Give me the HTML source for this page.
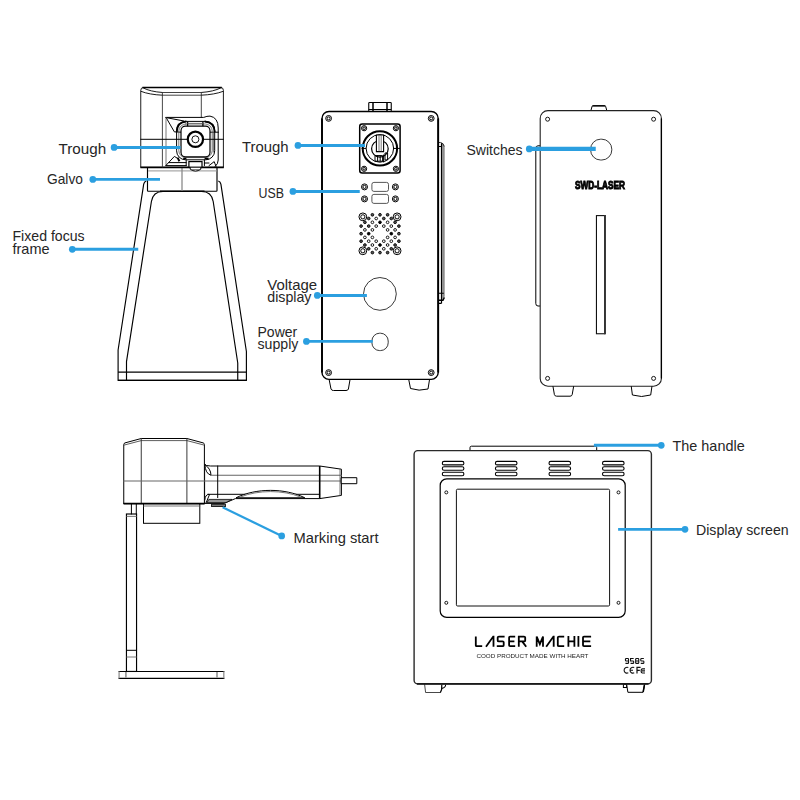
<!DOCTYPE html>
<html>
<head>
<meta charset="utf-8">
<title>Laser machine parts diagram</title>
<style>
html,body{margin:0;padding:0;background:#fff;}
body{width:800px;height:800px;overflow:hidden;font-family:"Liberation Sans",sans-serif;}
svg{display:block;}
.k{fill:none;stroke:#000;stroke-width:1;stroke-linejoin:round;stroke-linecap:round;}
.kb{fill:none;stroke:#000;stroke-width:1.6;stroke-linejoin:round;stroke-linecap:round;}
.g{fill:none;stroke:#555;stroke-width:0.8;stroke-linejoin:round;stroke-linecap:round;}
.w{fill:#fff;}
.bl{stroke:#2b9fe0;stroke-width:2.9;fill:none;}
.bd{fill:#2b9fe0;stroke:none;}
.t{font-family:"Liberation Sans",sans-serif;font-size:14.5px;fill:#262626;}
</style>
</head>
<body>
<svg width="800" height="800" viewBox="0 0 800 800">
<defs><filter id="gray" x="-5%" y="-20%" width="110%" height="140%" color-interpolation-filters="sRGB"><feColorMatrix type="saturate" values="0"/></filter></defs>
<rect width="800" height="800" fill="#fff"/>

<!-- ============ VIEW 1 : galvo head on fixed focus frame ============ -->
<g id="v1">
  <!-- frame -->
  <path d="M146.3 181 Q144.2 181.6 143.7 184.2 L118.1 350 L118.1 380.4 L246.4 380.4 L246.4 351.5 L220.9 184.2 Q220.4 181.6 218.3 181" fill="none" stroke="#000" stroke-width="1.15" stroke-linejoin="round"/>
  <path d="M126.5 380.4 L126.5 361.6 L151.4 201.5 Q153 191.5 163 191.5 L201.6 191.5 Q211.6 191.5 213.2 201.5 L237.75 363 L237.75 380.4" fill="none" stroke="#000" stroke-width="1.15" stroke-linejoin="round"/>
  <path d="M118.1 372.1 L246.4 372.1" fill="none" stroke="#000" stroke-width="1.2"/>
  <path d="M118.1 380.4 L246.4 380.4" fill="none" stroke="#000" stroke-width="1.2"/>
  <!-- galvo block -->
  <path d="M147.5 167.4 L147.5 190.6 Q147.5 191.2 148.2 191.2 L216.3 191.2 Q217 191.2 217 190.6 L217 167.4" fill="#fff" stroke="#000" stroke-width="1.15"/>
  <path d="M160 191.3 L204.5 191.3" fill="none" stroke="#000" stroke-width="1.5"/>
  <path d="M148 170.9 L216.5 170.9" fill="none" stroke="#aaa" stroke-width="1.2"/>
  <path d="M182 168 L182 190.8" fill="none" stroke="#8a8a8a" stroke-width="1.3"/>
  <!-- head box -->
  <path d="M140.75 167.4 L140.75 90.4 Q140.75 87.5 143.6 87.5 L220.6 87.5 Q223.4 87.5 223.4 90.4 L223.4 167.4 Z" fill="#fff" stroke="#111" stroke-width="0.95"/>
  <path d="M142.4 87.5 L221.8 87.5" fill="none" stroke="#000" stroke-width="1.5"/>
  <path d="M140.4 167.4 L223.8 167.4" fill="none" stroke="#000" stroke-width="1.8"/>
  <path class="k" d="M143.4 88 Q150 91.6 162.4 92.5 M201.3 92.5 Q213.8 91.6 220.6 88" style="stroke-width:0.9"/>
  <path class="k" d="M141.2 91.4 Q149 94.6 162.4 95.2 M201.3 95.2 Q214.8 94.6 223 91.4" style="stroke-width:0.9"/>
  <path class="g" d="M162.4 92.5 L201.3 92.5 M162.4 95.2 L201.3 95.2" style="stroke:#444;stroke-width:1"/>
  <path class="g" d="M162.4 92.5 L162.4 167 M201.3 92.5 L201.3 117.4" style="stroke:#333;stroke-width:0.9"/>
  <!-- lens housing -->
  <path class="k" d="M166 117.4 L203.7 117.4 Q207 116 210 116.1 Q218.2 117.5 218.2 128 L218.2 160 Q218.2 164 215.2 166.4"/>
  <path class="k" d="M166 117.4 L174.4 131.9 L181.4 132.2 M166 117.6 L184 121"/>
  <path class="g" d="M166 117.4 L166 165.4"/>
  <path class="k" d="M209.4 132.2 L218.4 132.2"/>
  <!-- concentric rounded frames -->
  <path d="M176.7 132 Q176.9 122 186.4 121.5 M204.6 121.5 Q214.4 122 214.7 132" fill="none" stroke="#000" stroke-width="1.9" stroke-linecap="butt"/>
  <rect class="k" x="176.6" y="121.4" width="38.1" height="38.4" rx="9"/>
  <rect class="g" x="178.8" y="124" width="33.4" height="33.6" rx="7"/>
  <rect x="181" y="126.2" width="29" height="30.6" rx="4.5" fill="#fff" stroke="#000" stroke-width="1.2"/>
  <path class="g" d="M213.4 133 L213.4 152"/>
  <path d="M187.6 121.4 L187.6 126.2 M202.9 121.4 L202.9 126.2" fill="none" stroke="#000" stroke-width="1.3"/>
  <path class="g" d="M187.6 123.4 L202.9 123.4"/>
  <path class="k" d="M140.75 139.3 L187.6 139.3 M203 139.3 L223.4 139.3"/>
  <circle cx="195.4" cy="139.3" r="7.65" fill="#fff" stroke="#000" stroke-width="2.2"/>
  <circle cx="195.4" cy="139.3" r="3.5" fill="#fff" stroke="#000" stroke-width="0.9"/>
  <!-- bottom details -->
  <path d="M183.2 158.6 L186.4 158.6 M204.6 158.6 L208.6 158.6" fill="none" stroke="#000" stroke-width="1.6"/>
  <path class="k" d="M166 165.4 L174.4 156.4 L177.6 158.4 M168.8 162.6 L186.2 162.6 M166 165.6 L186.2 165.6"/>
  <path d="M177.6 157.6 L179.4 161.2" fill="none" stroke="#000" stroke-width="2"/>
  <rect x="188.9" y="161.6" width="13.1" height="5.6" fill="#fff" stroke="#000" stroke-width="1.2"/>
  <path class="k" d="M186.2 160 L186.2 165.6 M204.4 160 L204.4 165.6"/>
  <path class="k w" d="M190.2 167.7 L190.2 169.2 Q195.5 173 200.8 169.2 L200.8 167.7"/>
  <path class="g" d="M191 169.6 L200 169.6"/>
  <path class="k" d="M204.4 163 L209 163 M209 165.6 L214.2 161.6 L216 166.4"/>
</g>

<!-- ============ VIEW 2 : back panel ============ -->
<g id="v2">
  <!-- right side handle -->
  <path d="M442.2 297 L442.2 146 Q442.4 143.6 441 142.6 Q444.7 143.4 444.7 148 L444.7 296 Q444.7 299 442.2 301 Z" fill="#8c8c8c" stroke="none"/>
  <path d="M438.2 142.5 L440.6 142.5 Q443.6 143 444.2 146.5" fill="none" stroke="#333" stroke-width="1"/>
  <path d="M441.5 143.2 L441.5 303.4" fill="none" stroke="#000" stroke-width="1.2"/>
  <path d="M438.2 146.5 L441.5 146.5 M438.2 293.3 L443.8 293.3 M438.2 303.4 L441.5 303.4" fill="none" stroke="#000" stroke-width="1.1"/>
  <path d="M438.2 300.2 L443 300.2 L444.4 297.5" fill="none" stroke="#000" stroke-width="1.4"/>
  <!-- top knob -->
  <rect x="368.75" y="102.5" width="22.5" height="9" rx="0.8" fill="#fff" stroke="#000" stroke-width="1.1"/>
  <path d="M373 102.5 L373 111 M387 102.5 L387 111" fill="none" stroke="#000" stroke-width="1.5"/>
  <path d="M368.75 109.5 L391.25 109.5" fill="none" stroke="#000" stroke-width="1"/>
  <!-- body -->
  <rect x="322" y="111.5" width="116.2" height="267.9" rx="7" fill="#fff" stroke="#000" stroke-width="1.4"/>
  <path d="M322 118.5 L322 372.4 M438.2 118.5 L438.2 372.4" fill="none" stroke="#000" stroke-width="1.85"/>
  <!-- feet -->
  <path class="k" d="M329.3 380.4 L331 389 Q331.5 390.5 333.5 390.5 L346 390.5 Q348 390.5 348.4 389 L349.9 380.4"/>
  <path class="k" d="M408.9 380.4 L410.5 388.5 Q419 391.5 428 389 L429.4 380.4"/>
  <!-- corner screws -->
  <circle cx="328.6" cy="118.4" r="2.9" fill="#fff" stroke="#000" stroke-width="1"/><circle cx="328.6" cy="118.4" r="1.50" fill="#fff" stroke="#000" stroke-width="1"/>
  <circle cx="431.2" cy="118.4" r="2.9" fill="#fff" stroke="#000" stroke-width="1"/><circle cx="431.2" cy="118.4" r="1.50" fill="#fff" stroke="#000" stroke-width="1"/>
  <circle cx="328.6" cy="372.6" r="2.9" fill="#fff" stroke="#000" stroke-width="1"/><circle cx="328.6" cy="372.6" r="1.50" fill="#fff" stroke="#000" stroke-width="1"/>
  <circle cx="431.2" cy="372.6" r="2.9" fill="#fff" stroke="#000" stroke-width="1"/><circle cx="431.2" cy="372.6" r="1.50" fill="#fff" stroke="#000" stroke-width="1"/>
  <!-- connector plate -->
  <rect x="359.7" y="124" width="40.4" height="49" rx="2.5" fill="#fff" stroke="#000" stroke-width="1.5"/>
  <circle cx="364.1" cy="128.2" r="2.6" fill="#fff" stroke="#000" stroke-width="1"/><circle cx="364.1" cy="128.2" r="1.30" fill="#fff" stroke="#000" stroke-width="1"/>
  <circle cx="395.9" cy="128.2" r="2.6" fill="#fff" stroke="#000" stroke-width="1"/><circle cx="395.9" cy="128.2" r="1.30" fill="#fff" stroke="#000" stroke-width="1"/>
  <circle cx="364.1" cy="168.8" r="2.6" fill="#fff" stroke="#000" stroke-width="1"/><circle cx="364.1" cy="168.8" r="1.30" fill="#fff" stroke="#000" stroke-width="1"/>
  <circle cx="395.9" cy="168.8" r="2.6" fill="#fff" stroke="#000" stroke-width="1"/><circle cx="395.9" cy="168.8" r="1.30" fill="#fff" stroke="#000" stroke-width="1"/>
  <circle cx="379.9" cy="148.4" r="17.2" fill="#fff" stroke="#000" stroke-width="2"/>
  <circle class="k" cx="379.9" cy="148.4" r="13.8"/>
  <path class="k" d="M362 148.4 L366 148.4 M394 148.4 L399.5 148.4"/>
  <circle cx="379.9" cy="148.8" r="8.3" fill="none" stroke="#000" stroke-width="1.2"/>
  <path d="M376.4 135 L383.6 135 L383.6 151.6 L376.4 151.6 Z" fill="#fff" stroke="#000" stroke-width="1.1"/>
  <path class="g" d="M379 135.5 L379 151 M381.2 135.5 L381.2 151"/>
  <path class="k" d="M375.4 155.6 L382.6 155.6 L382.6 161.2 L375.4 161.2 Z M377.6 155.6 L377.6 161 M380.2 155.6 L380.2 161"/>
  <path class="k" d="M385.4 153 L387.6 153 L387.6 160 L385.4 160 Z M383.6 155 L383.6 162"/>
  <!-- USB -->
  <rect x="371.9" y="182.4" width="16.6" height="9" rx="2" fill="#fff" stroke="#444" stroke-width="0.9"/>
  <rect x="371.9" y="194.4" width="16.6" height="9" rx="2" fill="#fff" stroke="#444" stroke-width="0.9"/>
  <circle cx="364.5" cy="186.9" r="3" fill="#fff" stroke="#000" stroke-width="1"/><circle cx="364.5" cy="186.9" r="1.60" fill="#fff" stroke="#000" stroke-width="1"/>
  <circle cx="395.4" cy="186.9" r="3" fill="#fff" stroke="#000" stroke-width="1"/><circle cx="395.4" cy="186.9" r="1.60" fill="#fff" stroke="#000" stroke-width="1"/>
  <circle cx="364.5" cy="198.9" r="3" fill="#fff" stroke="#000" stroke-width="1"/><circle cx="364.5" cy="198.9" r="1.60" fill="#fff" stroke="#000" stroke-width="1"/>
  <circle cx="395.4" cy="198.9" r="3" fill="#fff" stroke="#000" stroke-width="1"/><circle cx="395.4" cy="198.9" r="1.60" fill="#fff" stroke="#000" stroke-width="1"/>
  <!-- vent grid -->
  <circle cx="372.4" cy="214.8" r="1.35" fill="#555" stroke="#000" stroke-width="0.9"/>
  <circle cx="380.0" cy="214.8" r="1.35" fill="#555" stroke="#000" stroke-width="0.9"/>
  <circle cx="387.6" cy="214.8" r="1.35" fill="#555" stroke="#000" stroke-width="0.9"/>
  <circle cx="368.7" cy="218.5" r="1.35" fill="#555" stroke="#000" stroke-width="0.9"/>
  <circle cx="376.2" cy="218.5" r="1.35" fill="#fff" stroke="#000" stroke-width="0.9"/>
  <circle cx="383.8" cy="218.5" r="1.35" fill="#555" stroke="#000" stroke-width="0.9"/>
  <circle cx="391.3" cy="218.5" r="1.35" fill="#555" stroke="#000" stroke-width="0.9"/>
  <circle cx="364.9" cy="222.3" r="1.35" fill="#555" stroke="#000" stroke-width="0.9"/>
  <circle cx="372.4" cy="222.3" r="1.35" fill="#fff" stroke="#000" stroke-width="0.9"/>
  <circle cx="380.0" cy="222.3" r="1.35" fill="#000" stroke="#000" stroke-width="0.9"/>
  <circle cx="387.6" cy="222.3" r="1.35" fill="#fff" stroke="#000" stroke-width="0.9"/>
  <circle cx="395.1" cy="222.3" r="1.35" fill="#555" stroke="#000" stroke-width="0.9"/>
  <circle cx="361.1" cy="226.1" r="1.35" fill="#555" stroke="#000" stroke-width="0.9"/>
  <circle cx="368.7" cy="226.1" r="1.35" fill="#555" stroke="#000" stroke-width="0.9"/>
  <circle cx="376.2" cy="226.1" r="1.35" fill="#fff" stroke="#000" stroke-width="0.9"/>
  <circle cx="383.8" cy="226.1" r="1.35" fill="#fff" stroke="#000" stroke-width="0.9"/>
  <circle cx="391.3" cy="226.1" r="1.35" fill="#fff" stroke="#000" stroke-width="0.9"/>
  <circle cx="398.9" cy="226.1" r="1.35" fill="#555" stroke="#000" stroke-width="0.9"/>
  <circle cx="364.9" cy="229.9" r="1.35" fill="#fff" stroke="#000" stroke-width="0.9"/>
  <circle cx="372.4" cy="229.9" r="1.35" fill="#fff" stroke="#000" stroke-width="0.9"/>
  <circle cx="387.6" cy="229.9" r="1.35" fill="#fff" stroke="#000" stroke-width="0.9"/>
  <circle cx="395.1" cy="229.9" r="1.35" fill="#fff" stroke="#000" stroke-width="0.9"/>
  <circle cx="361.1" cy="233.7" r="1.35" fill="#555" stroke="#000" stroke-width="0.9"/>
  <circle cx="368.7" cy="233.7" r="1.35" fill="#000" stroke="#000" stroke-width="0.9"/>
  <circle cx="391.3" cy="233.7" r="1.35" fill="#000" stroke="#000" stroke-width="0.9"/>
  <circle cx="398.9" cy="233.7" r="1.35" fill="#555" stroke="#000" stroke-width="0.9"/>
  <circle cx="364.9" cy="237.4" r="1.35" fill="#fff" stroke="#000" stroke-width="0.9"/>
  <circle cx="372.4" cy="237.4" r="1.35" fill="#fff" stroke="#000" stroke-width="0.9"/>
  <circle cx="387.6" cy="237.4" r="1.35" fill="#fff" stroke="#000" stroke-width="0.9"/>
  <circle cx="395.1" cy="237.4" r="1.35" fill="#fff" stroke="#000" stroke-width="0.9"/>
  <circle cx="361.1" cy="241.2" r="1.35" fill="#555" stroke="#000" stroke-width="0.9"/>
  <circle cx="368.7" cy="241.2" r="1.35" fill="#fff" stroke="#000" stroke-width="0.9"/>
  <circle cx="376.2" cy="241.2" r="1.35" fill="#fff" stroke="#000" stroke-width="0.9"/>
  <circle cx="383.8" cy="241.2" r="1.35" fill="#fff" stroke="#000" stroke-width="0.9"/>
  <circle cx="391.3" cy="241.2" r="1.35" fill="#fff" stroke="#000" stroke-width="0.9"/>
  <circle cx="398.9" cy="241.2" r="1.35" fill="#555" stroke="#000" stroke-width="0.9"/>
  <circle cx="364.9" cy="245.0" r="1.35" fill="#555" stroke="#000" stroke-width="0.9"/>
  <circle cx="372.4" cy="245.0" r="1.35" fill="#fff" stroke="#000" stroke-width="0.9"/>
  <circle cx="380.0" cy="245.0" r="1.35" fill="#000" stroke="#000" stroke-width="0.9"/>
  <circle cx="387.6" cy="245.0" r="1.35" fill="#fff" stroke="#000" stroke-width="0.9"/>
  <circle cx="395.1" cy="245.0" r="1.35" fill="#555" stroke="#000" stroke-width="0.9"/>
  <circle cx="368.7" cy="248.8" r="1.35" fill="#555" stroke="#000" stroke-width="0.9"/>
  <circle cx="376.2" cy="248.8" r="1.35" fill="#fff" stroke="#000" stroke-width="0.9"/>
  <circle cx="383.8" cy="248.8" r="1.35" fill="#fff" stroke="#000" stroke-width="0.9"/>
  <circle cx="391.3" cy="248.8" r="1.35" fill="#555" stroke="#000" stroke-width="0.9"/>
  <circle cx="372.4" cy="252.6" r="1.35" fill="#555" stroke="#000" stroke-width="0.9"/>
  <circle cx="380.0" cy="252.6" r="1.35" fill="#555" stroke="#000" stroke-width="0.9"/>
  <circle cx="387.6" cy="252.6" r="1.35" fill="#555" stroke="#000" stroke-width="0.9"/>
  <circle cx="362.85" cy="216.85" r="3.9" fill="#fff" stroke="#000" stroke-width="1"/><circle cx="362.85" cy="216.85" r="2.10" fill="#fff" stroke="#000" stroke-width="1"/>
  <circle cx="397.1" cy="216.85" r="3.9" fill="#fff" stroke="#000" stroke-width="1"/><circle cx="397.1" cy="216.85" r="2.10" fill="#fff" stroke="#000" stroke-width="1"/>
  <circle cx="362.85" cy="250.8" r="3.9" fill="#fff" stroke="#000" stroke-width="1"/><circle cx="362.85" cy="250.8" r="2.10" fill="#fff" stroke="#000" stroke-width="1"/>
  <circle cx="397.1" cy="250.8" r="3.9" fill="#fff" stroke="#000" stroke-width="1"/><circle cx="397.1" cy="250.8" r="2.10" fill="#fff" stroke="#000" stroke-width="1"/>
  <!-- voltage display -->
  <circle cx="379.9" cy="293.9" r="16.4" fill="#fff" stroke="#222" stroke-width="0.9"/>
  <!-- power supply -->
  <rect x="371.9" y="333.2" width="16.3" height="17.4" rx="7.8" fill="#fff" stroke="#222" stroke-width="0.9"/>
</g>

<!-- ============ VIEW 3 : side panel ============ -->
<g id="v3">
  <!-- side handle (left) -->
  <path class="k" d="M540.2 145.8 L538 145.8 Q535.8 145.8 535.8 148.3 L535.8 303.5 Q535.8 306 538 306 L540.2 306"/>
  <!-- top knob -->
  <path class="k w" d="M590.9 110.5 L592 106.6 Q592.3 105.7 593.3 105.7 L604.4 105.7 Q605.4 105.7 605.7 106.6 L606.8 110.5"/>
  <path d="M592.4 105.9 L605.4 105.9" stroke="#000" stroke-width="1.3" fill="none"/>
  <!-- body -->
  <rect x="540.2" y="110.6" width="121.2" height="275.65" rx="7.8" fill="#fff" stroke="#222" stroke-width="1.1"/>
  <path d="M661.4 118.5 L661.4 378.4" stroke="#000" stroke-width="1.3" fill="none"/>
  <!-- feet -->
  <path class="k" d="M553 386.6 L554.4 394.6 Q554.8 396.2 556.6 396.2 L570 396.2 Q571.8 396.2 572.2 394.6 L573.6 386.6"/>
  <path class="k" d="M631.3 386.6 L632.4 395 Q641.6 398 650.7 395 L651.9 386.6"/>
  <!-- screw holes -->
  <circle cx="547.6" cy="119.2" r="2.0" fill="#fff" stroke="#000" stroke-width="0.9"/>
  <circle cx="653.6" cy="119.2" r="2.0" fill="#fff" stroke="#000" stroke-width="0.9"/>
  <circle cx="547.6" cy="378.4" r="2.0" fill="#fff" stroke="#000" stroke-width="0.9"/>
  <circle cx="653.6" cy="378.4" r="2.0" fill="#fff" stroke="#000" stroke-width="0.9"/>
  <!-- switch -->
  <rect x="590.6" y="139.2" width="21.2" height="20.8" rx="10" fill="#fff" stroke="#222" stroke-width="0.9"/>
  <!-- brand -->
  <g filter="url(#gray)"><text x="600" y="189.25" text-anchor="middle" textLength="50.0" lengthAdjust="spacingAndGlyphs" style="font-family:'Liberation Sans',sans-serif;font-weight:bold;font-size:10.9px;fill:#000;stroke:#000;stroke-width:0.95;stroke-linejoin:miter;">SWD-LASER</text></g>
  <!-- slot -->
  <rect x="596.45" y="215.6" width="8.3" height="118.15" fill="#fff" stroke="#111" stroke-width="1.1"/>
  <path d="M605 215.1 L605 334.2" stroke="#333" stroke-width="1.9" fill="none"/>
</g>

<!-- ============ VIEW 4 : side view of marking head on stand ============ -->
<g id="v4">
  <!-- stand base -->
  <path d="M118.5 671.5 L224.4 671.5 M118.5 678.35 L224.4 678.35" fill="none" stroke="#000" stroke-width="1.2"/>
  <path d="M119.1 671.5 L119.1 678.35 M223.8 671.5 L223.8 678.35" fill="none" stroke="#999" stroke-width="1.4"/>
  <path d="M125.9 672 L125.9 677.8 M217 672 L217 677.8" fill="none" stroke="#999" stroke-width="1.7"/>
  <!-- pole -->
  <rect x="126.45" y="514" width="10.1" height="157.45" fill="#fff" stroke="#000" stroke-width="1.15"/>
  <path class="g" d="M126.5 516.4 L136.5 516.4 M126.5 657 L136.5 657"/>
  <path class="k" d="M126.5 650.3 L136.5 650.3"/>
  <path class="k" d="M131.4 503.6 L131.4 514 M136.3 503.6 L136.3 514"/>
  <!-- lens block -->
  <rect x="143.5" y="503.5" width="56.3" height="19.8" fill="#fff" stroke="#000" stroke-width="1"/>
  <path class="g" d="M143.5 506 L199.8 506"/>
  <!-- barrel -->
  <path class="k w" d="M204.6 464.4 L204.6 503.4 L224 503.4 L235.4 498.6 L319.7 498.6 L341.4 495.4 L341.4 469.2 L319.7 466 L210.5 466 Q205.5 466 204.6 464.4 Z"/>
  <path class="k" d="M204.8 464.6 Q210.8 468.5 211 475.2 Q205.4 473.8 204.8 464.6 Z"/>
  <path class="g" d="M211 475.2 L341.4 475.2 M204.6 481 L341.4 481" style="stroke:#666;stroke-width:1.1"/>
  <path class="k" d="M217.7 466 L217.7 497.6"/>
  <path class="k" d="M207.8 494.3 L246 494.3 M295 494.3 L319.7 494.3"/>
  <path d="M319.7 466 L319.7 498.6" stroke="#000" stroke-width="1.6" fill="none"/>
  <path class="g" d="M340 469.2 L340 495.4"/>
  <!-- pin -->
  <rect class="k w" x="341.5" y="477.7" width="15.3" height="6"/>
  <!-- bottom grip bump -->
  <path class="k w" d="M236.4 497.6 C 256 487.9, 285 487.9, 304.4 497.6 Z"/>
  <path class="g" d="M241 496.8 C 258 489.8, 283 489.8, 300 496.8"/>
  <!-- nozzle wedge -->
  <path class="k" d="M204.8 499.6 Q205.2 494.6 208.6 494.3 M206 503 L209.5 494.6"/>
  <path d="M207 502.6 L208.8 499.4 L232 499.4 L226 502.6 Z" fill="#999" stroke="#000" stroke-width="0.8"/>
  <rect x="211.6" y="504.2" width="13.8" height="2.4" fill="#777" stroke="#000" stroke-width="0.8"/>
  <!-- head -->
  <path class="k w" d="M123.75 503.5 L123.75 444.6 Q123.75 443.3 125 442.9 L141.25 438.5 L186.9 438.5 L203.2 442.9 Q204.4 443.3 204.4 444.6 L204.4 503.5 Z"/>
  <path class="g" d="M124.4 445 L141.25 440.6 L186.9 440.6 L203.8 445" style="stroke:#333"/>
  <path class="g" d="M141.25 438.5 L141.25 503.5 M186.9 438.5 L186.9 503.5" style="stroke:#222;stroke-width:0.9"/>
  <path class="g" d="M123.75 481 L204.4 481" style="stroke:#666;stroke-width:1.1"/>
  <path d="M123.4 503.5 L204.8 503.5" stroke="#000" stroke-width="1.7" fill="none"/>
</g>

<!-- ============ VIEW 5 : front view ============ -->
<g id="v5">
  <!-- handle on top -->
  <path class="k w" d="M470 450.5 L470 447.6 Q470 446.2 471.4 446.2 L595.3 446.2 Q596.7 446.2 596.7 447.6 L596.7 450.5"/>
  <!-- feet -->
  <path class="g" d="M424.6 684.4 L425.6 692.5 L440.4 692.5" style="stroke:#333;stroke-width:0.9"/>
  <path d="M441.8 684.4 L441.6 689.5 L440.4 692.5" fill="none" stroke="#000" stroke-width="1.2"/>
  <path d="M445.6 684.6 Q445.8 687.6 441.8 688.4" fill="none" stroke="#000" stroke-width="1.1"/>
  <path class="k" d="M626.6 684.4 L627.9 692.3 L643 692.3 L644.7 684.4"/>
  <path d="M644.4 685 L643.2 692" fill="none" stroke="#000" stroke-width="1.5"/>
  <rect x="623.4" y="684.5" width="3.2" height="3" fill="#fff" stroke="#000" stroke-width="1"/>
  <!-- body -->
  <rect x="414.1" y="450.6" width="237.3" height="233.2" rx="3.6" fill="#fff" stroke="#2a2a2a" stroke-width="1.4"/>
  <path d="M417 683.85 L648.5 683.85" stroke="#1a1a1a" stroke-width="1.75" fill="none"/>
  <!-- vents -->
  <rect x="442.3" y="461.4" width="21.6" height="3.5" rx="1.75" fill="#fff" stroke="#000" stroke-width="1.1"/>
  <rect x="442.3" y="466.8" width="21.6" height="3.5" rx="1.75" fill="#fff" stroke="#000" stroke-width="1.1"/>
  <rect x="442.3" y="472.3" width="21.6" height="3.5" rx="1.75" fill="#fff" stroke="#000" stroke-width="1.1"/>
  <rect x="495.4" y="461.4" width="21.6" height="3.5" rx="1.75" fill="#fff" stroke="#000" stroke-width="1.1"/>
  <rect x="495.4" y="466.8" width="21.6" height="3.5" rx="1.75" fill="#fff" stroke="#000" stroke-width="1.1"/>
  <rect x="495.4" y="472.3" width="21.6" height="3.5" rx="1.75" fill="#fff" stroke="#000" stroke-width="1.1"/>
  <rect x="549.0" y="461.4" width="21.6" height="3.5" rx="1.75" fill="#fff" stroke="#000" stroke-width="1.1"/>
  <rect x="549.0" y="466.8" width="21.6" height="3.5" rx="1.75" fill="#fff" stroke="#000" stroke-width="1.1"/>
  <rect x="549.0" y="472.3" width="21.6" height="3.5" rx="1.75" fill="#fff" stroke="#000" stroke-width="1.1"/>
  <rect x="602.5" y="461.4" width="21.6" height="3.5" rx="1.75" fill="#fff" stroke="#000" stroke-width="1.1"/>
  <rect x="602.5" y="466.8" width="21.6" height="3.5" rx="1.75" fill="#fff" stroke="#000" stroke-width="1.1"/>
  <rect x="602.5" y="472.3" width="21.6" height="3.5" rx="1.75" fill="#fff" stroke="#000" stroke-width="1.1"/>
  <!-- bezel & screen -->
  <rect x="440.2" y="478.8" width="185" height="138.6" rx="6.5" fill="#fff" stroke="#000" stroke-width="1.2"/>
  <rect x="456.4" y="489.2" width="153.2" height="116.8" rx="1.2" fill="#fff" stroke="#111" stroke-width="1"/>
  <circle cx="446.3" cy="492.4" r="1.5" fill="#fff" stroke="#000" stroke-width="0.9"/>
  <circle cx="618.5" cy="492.4" r="1.5" fill="#fff" stroke="#000" stroke-width="0.9"/>
  <circle cx="446.3" cy="602.8" r="1.5" fill="#fff" stroke="#000" stroke-width="0.9"/>
  <circle cx="618.5" cy="602.8" r="1.5" fill="#fff" stroke="#000" stroke-width="0.9"/>
  <!-- logo -->
  <g transform="translate(474.9 636.60) scale(1 0.7917)"><path d="M0.90 0 L0.90 11.2 Q0.90 12 1.70 12 L7.30 12 M11.10 12.9 L18.30 0 L18.60 0 L18.60 12.9 M29.70 0 L24.00 0 Q22.80 0 22.80 1.2 L22.80 4.8 Q22.80 6 24.00 6 L27.60 6 Q28.80 6 28.80 7.2 L28.80 10.8 Q28.80 12 27.60 12 L21.90 12 M40.30 0 L35.20 0 Q34.20 0 34.20 1 L34.20 11 Q34.20 12 35.20 12 L40.30 12 M34.20 6 L39.50 6 M43.90 12.9 L43.90 0 L49.10 0 Q50.30 0 50.30 1.2 L50.30 4.8 Q50.30 6 49.10 6 L43.90 6 M47.30 6 L51.30 12.9 M61.80 12.9 L61.80 0 L64.95 9.5 L68.10 0 L68.10 12.9 M71.30 12.9 L78.50 0 L78.80 0 L78.80 12.9 M89.30 0 L84.10 0 Q82.90 0 82.90 1.2 L82.90 10.8 Q82.90 12 84.10 12 L89.30 12 M93.50 -0.9 L93.50 12.9 M99.50 -0.9 L99.50 12.9 M93.50 6 L99.50 6 M103.50 -0.9 L103.50 12.9 M116.20 0 L109.10 0 Q108.10 0 108.10 1 L108.10 11 Q108.10 12 109.10 12 L116.20 12 M108.10 6 L115.40 6" fill="none" stroke="#000" stroke-width="1.8" stroke-linejoin="miter" stroke-linecap="butt" vector-effect="non-scaling-stroke"/></g>
  <g filter="url(#gray)"><text x="532.4" y="657.9" text-anchor="middle" textLength="112" lengthAdjust="spacingAndGlyphs" style="font-family:'Liberation Sans',sans-serif;font-size:5.8px;fill:#222;">COOD PRODUCT MADE WITH HEART</text></g>
  <g transform="translate(624.9 658.55) scale(1 0.8)"><path d="M3.65 3 L1.35 3 Q0.55 3 0.55 2.2 L0.55 .8 Q0.55 0 1.35 0 L2.8499999999999996 0 Q3.65 0 3.65 .8 L3.65 5.2 Q3.65 6 2.8499999999999996 6 L0.55 6 M8.75 0 L5.65 0 L5.65 3 L7.95 3 Q8.75 3 8.75 3.8 L8.75 5.2 Q8.75 6 7.95 6 L5.65 6 M11.55 0 L13.049999999999999 0 Q13.85 0 13.85 .8 L13.85 5.2 Q13.85 6 13.049999999999999 6 L11.55 6 Q10.75 6 10.75 5.2 L10.75 .8 Q10.75 0 11.55 0 Z M10.75 3 L13.85 3 M18.95 0 L16.65 0 Q15.85 0 15.85 .8 L15.85 2.2 Q15.85 3 16.65 3 L18.15 3 Q18.95 3 18.95 3.8 L18.95 5.2 Q18.95 6 18.15 6 L15.85 6" fill="none" stroke="#111" stroke-width="1.1" vector-effect="non-scaling-stroke"/></g>
  <path d="M628.3 667.6 A2.9 2.9 0 1 0 628.3 672.8 M634.2 667.6 A2.9 2.9 0 1 0 634.2 672.8 M630.6 670.2 L633 670.2" fill="none" stroke="#111" stroke-width="1.1"/><path d="M637 673.6 L637 667.4 L640.6 667.4 M637 670.3 L639.8 670.3" fill="none" stroke="#111" stroke-width="1.2"/><path d="M645 668.8 L642.4 668.8 Q641.2 668.8 641.2 670 L641.2 671.8 Q641.2 673 642.4 673 L645 673 M642 670.9 L645 670.9" fill="none" stroke="#111" stroke-width="1.2"/>
</g>

<!-- ============ LABELS ============ -->
<g id="labels">
  <path class="bl" d="M114.1 147.45 L180.5 147.45"/><circle class="bd" cx="114.1" cy="147.45" r="3.35"/>
  <path class="bl" d="M92.8 179.4 L160 179.4"/><circle class="bd" cx="92.8" cy="179.4" r="3.35"/>
  <path class="bl" d="M72.3 249.3 L138.25 249.3"/><circle class="bd" cx="72.3" cy="249.3" r="3.35"/>
  <path class="bl" d="M297.95 145.45 L365 145.45"/><circle class="bd" cx="297.95" cy="145.45" r="3.35"/>
  <path class="bl" d="M292.9 191.45 L359.75 191.45"/><circle class="bd" cx="292.9" cy="191.45" r="3.35"/>
  <path class="bl" d="M317.3 295.45 L366.9 295.45"/><circle class="bd" cx="317.3" cy="295.45" r="3.35"/>
  <path class="bl" d="M306.4 341.4 L372.8 341.4"/><circle class="bd" cx="306.4" cy="341.4" r="3.35"/>
  <path class="bl" style="stroke-width:4.1" d="M529.25 148.9 L595.75 148.9"/><circle class="bd" cx="529.25" cy="148.9" r="3.35"/>
  <path class="bl" style="stroke-width:2.25" d="M222.6 507.3 L281.7 535.9"/><circle class="bd" cx="281.7" cy="535.9" r="3.35"/>
  <path class="bl" d="M593.9 445.3 L661.25 445.3"/><circle class="bd" cx="661.25" cy="445.3" r="3.35"/>
  <path class="bl" d="M618.1 529.35 L685 529.35"/><circle class="bd" cx="685" cy="529.35" r="3.35"/>
  <text class="t" x="58.50" y="153.70" textLength="47.64" lengthAdjust="spacingAndGlyphs">Trough</text>
  <text class="t" x="47.00" y="184.25" textLength="35.90" lengthAdjust="spacingAndGlyphs">Galvo</text>
  <text class="t" x="12.50" y="241.25" textLength="72.16" lengthAdjust="spacingAndGlyphs">Fixed focus</text>
  <text class="t" x="12.50" y="254.25" textLength="37.09" lengthAdjust="spacingAndGlyphs">frame</text>
  <text class="t" x="242.00" y="151.60" textLength="46.65" lengthAdjust="spacingAndGlyphs">Trough</text>
  <text class="t" x="258.50" y="197.50" textLength="25.40" lengthAdjust="spacingAndGlyphs">USB</text>
  <text class="t" x="267.25" y="289.70" textLength="49.81" lengthAdjust="spacingAndGlyphs">Voltage</text>
  <text class="t" x="267.25" y="302.25" textLength="44.19" lengthAdjust="spacingAndGlyphs">display</text>
  <text class="t" x="257.50" y="336.60" textLength="39.71" lengthAdjust="spacingAndGlyphs">Power</text>
  <text class="t" x="257.50" y="349.10" textLength="40.93" lengthAdjust="spacingAndGlyphs">supply</text>
  <text class="t" x="466.50" y="154.75" textLength="56.04" lengthAdjust="spacingAndGlyphs">Switches</text>
  <text class="t" x="293.50" y="543.40" textLength="85.04" lengthAdjust="spacingAndGlyphs">Marking start</text>
  <text class="t" x="672.50" y="450.70" textLength="72.16" lengthAdjust="spacingAndGlyphs">The handle</text>
  <text class="t" x="696.00" y="534.70" textLength="92.70" lengthAdjust="spacingAndGlyphs">Display screen</text>
</g>
</svg>
</body>
</html>
